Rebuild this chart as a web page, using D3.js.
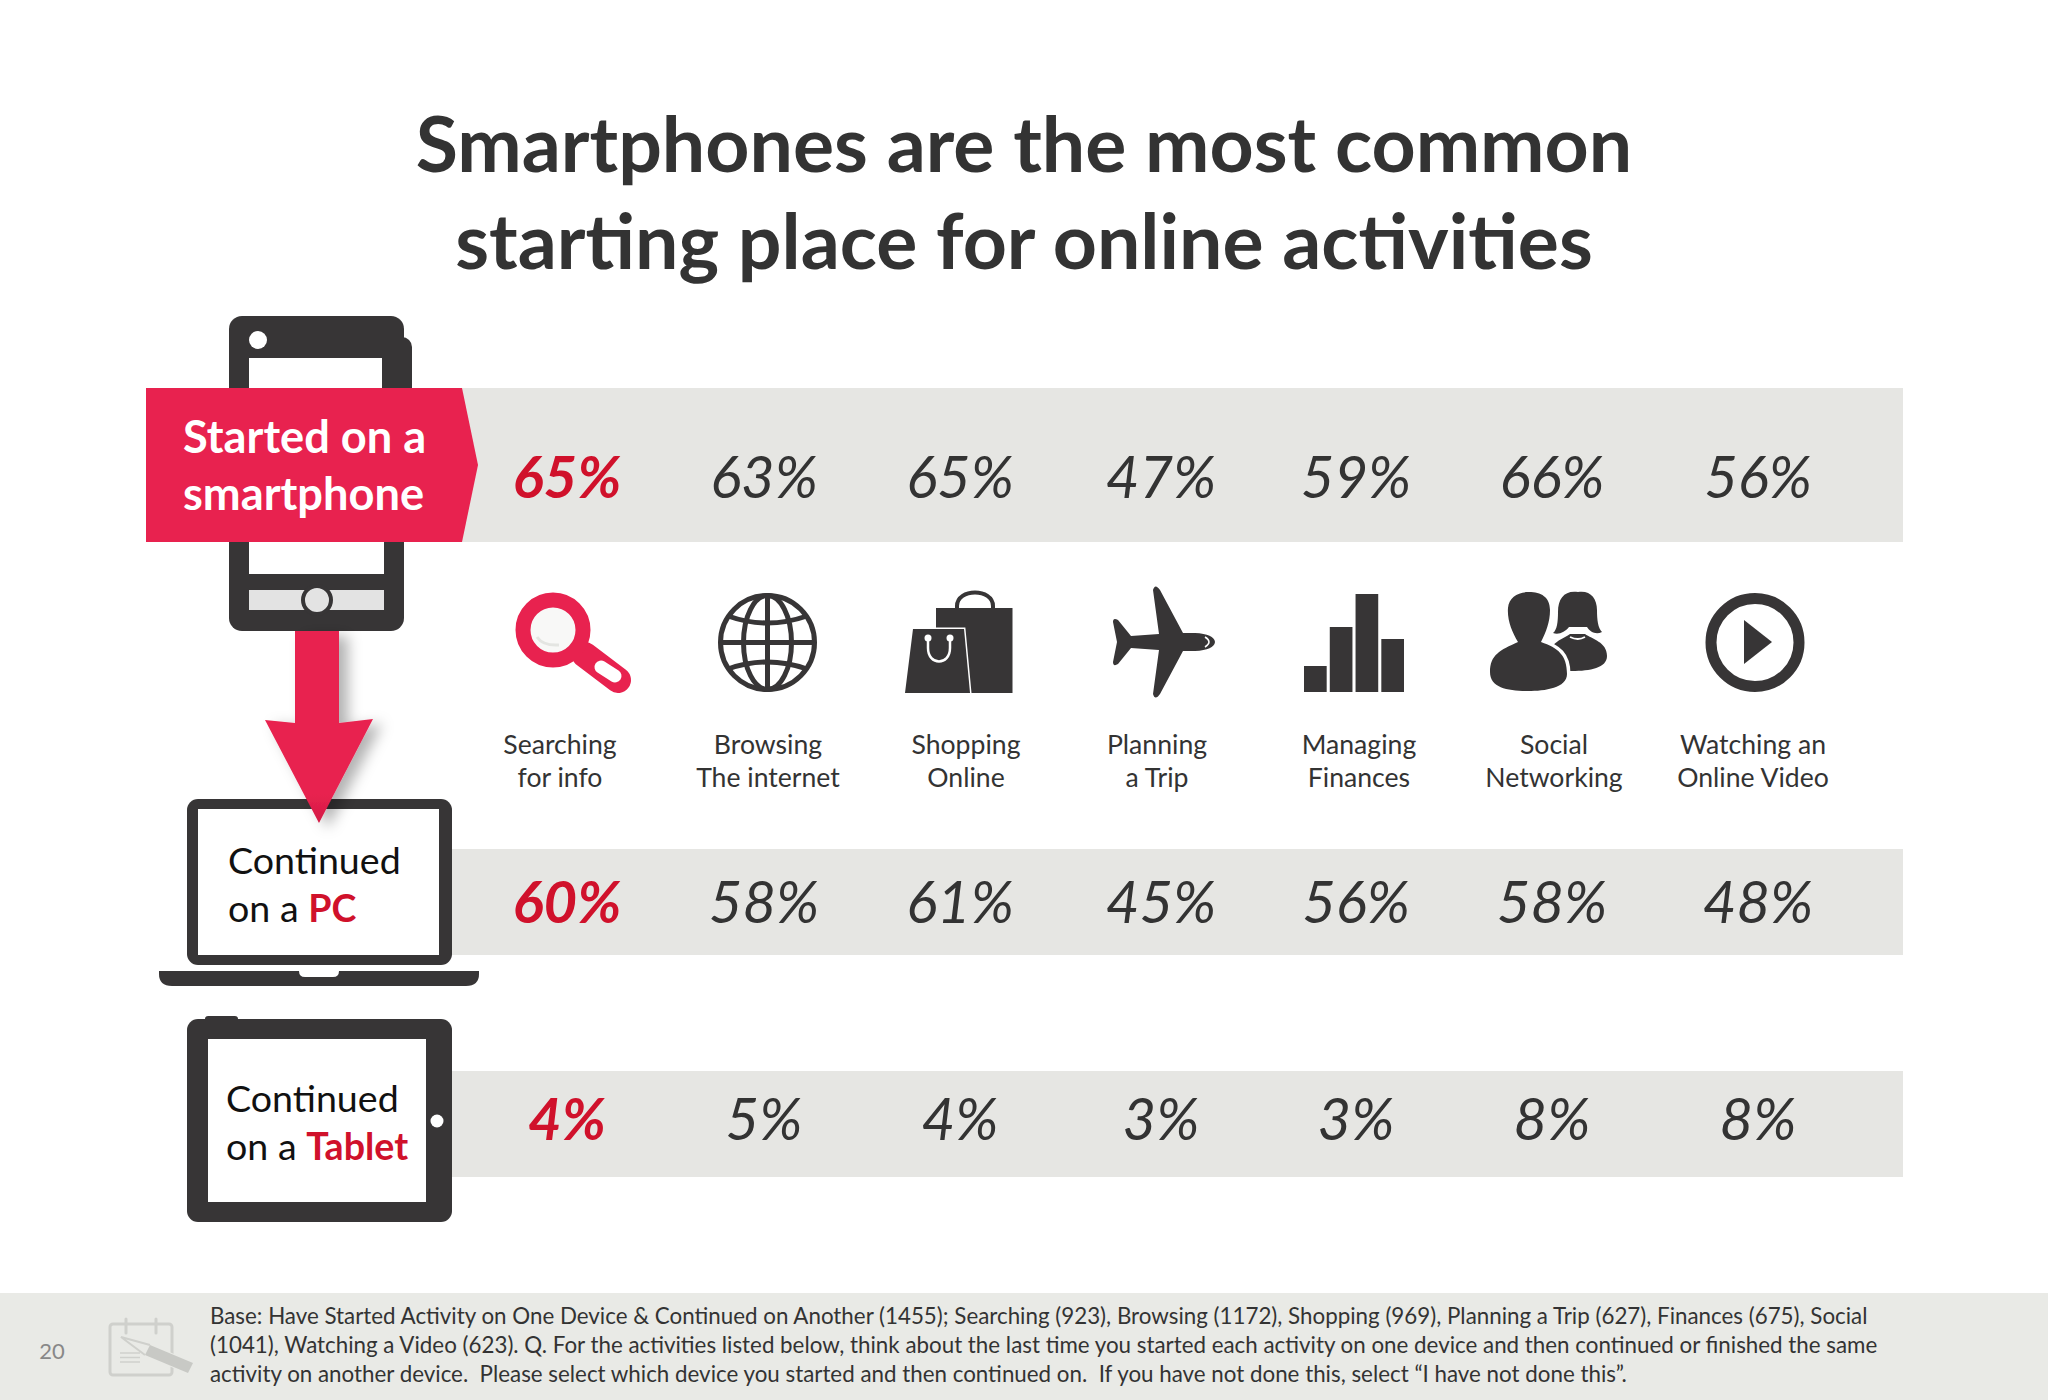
<!DOCTYPE html>
<html>
<head>
<meta charset="utf-8">
<title>Smartphones are the most common starting place</title>
<script src="https://cdnjs.cloudflare.com/ajax/libs/d3/7.8.5/d3.min.js"></script>
<style>
html, body { margin: 0; padding: 0; background: #fff; }
svg { display: block; }
text { font-family: Lato, "Open Sans", sans-serif; }
</style>
</head>
<body>
<div id="chart"></div>
<script>
// values
var activities = ["Searching", "Browsing", "Shopping", "Planning", "Managing", "Social", "Watching"];
var labelLine1 = ["Searching", "Browsing", "Shopping", "Planning", "Managing", "Social", "Watching an"];
var labelLine2 = ["for info", "The internet", "Online", "a Trip", "Finances", "Networking", "Online Video"];
var startedSmartphone = [65, 63, 65, 47, 59, 66, 56];
var continuedPC = [60, 58, 61, 45, 56, 58, 48];
var continuedTablet = [4, 5, 4, 3, 3, 8, 8];
var rowNames = ["smartphone", "pc", "tablet"];
var rowValues = [startedSmartphone, continuedPC, continuedTablet];
var titleLines = ["Smartphones are the most common", "starting place for online activities"];
var footnote = [
	"Base: Have Started Activity on One Device & Continued on Another (1455); Searching (923), Browsing (1172), Shopping (969), Planning a Trip (627), Finances (675), Social",
	"(1041), Watching a Video (623). Q. For the activities listed below, think about the last time you started each activity on one device and then continued or finished the same",
	"activity on another device.  Please select which device you started and then continued on.  If you have not done this, select \u201cI have not done this\u201d."
];
var financeBars = [26, 65, 98, 53];

var W = 2048, H = 1400;
var RED = "#e8224f", DARKRED = "#d0112b", DARK = "#373536", BAND = "#e6e6e3", FOOT = "#e9eae6";

var svg = d3.select("#chart").append("svg").attr("width", W).attr("height", H);
var defs = svg.append("defs");

var shadow = defs.append("filter").attr("id", "arrowshadow")
	.attr("x", "-30%").attr("y", "-20%").attr("width", "170%").attr("height", "150%");
shadow.append("feDropShadow").attr("dx", 9).attr("dy", 5).attr("stdDeviation", 7)
	.attr("flood-color", "#000").attr("flood-opacity", 0.3);

var arrowFill = defs.append("linearGradient").attr("id", "arrowfill")
	.attr("x1", 0).attr("y1", 0).attr("x2", 0).attr("y2", 1);
arrowFill.append("stop").attr("offset", "85%").attr("stop-color", RED);
arrowFill.append("stop").attr("offset", "100%").attr("stop-color", "#d31a45");

// columns are not evenly spaced on the slide, so ordinal scales
var xPct = d3.scaleOrdinal().domain(activities).range([567, 764, 960, 1161, 1356, 1552, 1758]);
var xLabel = d3.scaleOrdinal().domain(activities).range([560, 768, 966, 1157, 1359, 1554, 1753]);
var yBase = d3.scaleOrdinal().domain(rowNames).range([498, 923, 1140]);
var bandTop = d3.scaleOrdinal().domain(rowNames).range([388, 849, 1071]);
var bandHeight = d3.scaleOrdinal().domain(rowNames).range([154, 106, 106]);

// title
svg.selectAll("text.title").data(titleLines).enter().append("text")
	.attr("class", "title")
	.attr("x", 1024).attr("y", function (d, i) { return 172 + i * 97; })
	.attr("text-anchor", "middle")
	.attr("font-size", 77).attr("font-weight", 700).attr("fill", "#333")
	.text(function (d) { return d; });

// grey rows
svg.selectAll("rect.band").data(rowNames).enter().append("rect")
	.attr("class", "band")
	.attr("x", 440).attr("width", 1903 - 440)
	.attr("y", function (d) { return bandTop(d); })
	.attr("height", function (d) { return bandHeight(d); })
	.attr("fill", BAND);

// phone
var phone = svg.append("g");
phone.append("rect").attr("x", 340).attr("y", 337).attr("width", 72).attr("height", 100).attr("rx", 10).attr("fill", DARK);
phone.append("rect").attr("x", 229).attr("y", 316).attr("width", 175).attr("height", 315).attr("rx", 13).attr("fill", DARK);
phone.append("circle").attr("cx", 258).attr("cy", 340).attr("r", 9).attr("fill", "#fff");
phone.append("rect").attr("x", 249).attr("y", 358).attr("width", 133).attr("height", 40).attr("fill", "#fff");
phone.append("rect").attr("x", 249).attr("y", 530).attr("width", 135).attr("height", 44).attr("fill", "#fff");
phone.append("rect").attr("x", 249).attr("y", 590).attr("width", 135).attr("height", 20).attr("fill", "#e3e3e3");
phone.append("circle").attr("cx", 317).attr("cy", 600).attr("r", 14).attr("fill", "#e3e3e3").attr("stroke", DARK).attr("stroke-width", 4);

// banner
svg.append("path")
	.attr("d", "M146,388L462,388L478,465L462,542L146,542Z")
	.attr("fill", RED);
svg.selectAll("text.banner").data(["Started on a", "smartphone"]).enter().append("text")
	.attr("class", "banner")
	.attr("x", 183).attr("y", function (d, i) { return 453 + i * 57; })
	.attr("font-size", 45.2).attr("font-weight", 700).attr("fill", "#fff")
	.text(function (d) { return d; });

// laptop
var laptop = svg.append("g");
laptop.append("rect").attr("x", 187).attr("y", 799).attr("width", 265).attr("height", 166).attr("rx", 11).attr("fill", DARK);
laptop.append("rect").attr("x", 198).attr("y", 809).attr("width", 241).attr("height", 146).attr("fill", "#fff");
laptop.append("path").attr("d", "M159,971L479,971L479,974Q479,986 466,986L172,986Q159,986 159,974Z").attr("fill", DARK);
laptop.append("path").attr("d", "M299,971L339,971Q339,977 333,977L305,977Q299,977 299,971Z").attr("fill", "#fff");

// tablet
var tablet = svg.append("g");
tablet.append("rect").attr("x", 205).attr("y", 1016).attr("width", 33).attr("height", 8).attr("rx", 3).attr("fill", DARK);
tablet.append("rect").attr("x", 187).attr("y", 1019).attr("width", 265).attr("height", 203).attr("rx", 11).attr("fill", DARK);
tablet.append("rect").attr("x", 208).attr("y", 1039).attr("width", 218).attr("height", 163).attr("fill", "#fff");
tablet.append("circle").attr("cx", 437).attr("cy", 1121).attr("r", 6.5).attr("fill", "#fff");

// arrow from phone down to laptop
svg.append("path")
	.attr("d", "M295,631L339,631L339,723L373,719L319,823L265,720L295,723Z")
	.attr("fill", "url(#arrowfill)").attr("filter", "url(#arrowshadow)");

// device captions
function caption(x, y, strong) {
	svg.append("text").attr("x", x).attr("y", y).attr("font-size", 37.6).attr("fill", "#111").text("Continued");
	var t = svg.append("text").attr("x", x).attr("y", y + 48).attr("font-size", 37.6).attr("fill", "#111").text("on a ");
	t.append("tspan").attr("font-weight", 700).attr("fill", DARKRED).text(strong);
}
caption(228, 874, "PC");
caption(226, 1112, "Tablet");

// percentages, first column is bold and red
rowNames.forEach(function (row, r) {
	svg.selectAll("text.pct" + r).data(rowValues[r]).enter().append("text")
		.attr("class", "pct" + r)
		.attr("x", function (d, i) { return xPct(activities[i]); })
		.attr("y", yBase(row))
		.attr("text-anchor", "middle")
		.attr("font-size", 58).attr("font-style", "italic")
		.attr("font-weight", function (d, i) { return i == 0 ? 700 : 400; })
		.attr("fill", function (d, i) { return i == 0 ? DARKRED : "#333"; })
		.text(function (d) { return d + "%"; });
});

// activity labels
[labelLine1, labelLine2].forEach(function (lines, l) {
	svg.selectAll("text.lab" + l).data(lines).enter().append("text")
		.attr("class", "lab" + l)
		.attr("x", function (d, i) { return xLabel(activities[i]); })
		.attr("y", 754 + l * 33)
		.attr("text-anchor", "middle")
		.attr("font-size", 26.6).attr("fill", "#333")
		.text(function (d) { return d; });
});

// search icon
var search = svg.append("g");
search.append("line").attr("x1", 585).attr("y1", 655).attr("x2", 618).attr("y2", 680)
	.attr("stroke", RED).attr("stroke-width", 26).attr("stroke-linecap", "round");
search.append("circle").attr("cx", 553).attr("cy", 630).attr("r", 30).attr("fill", "#f8f8f7").attr("stroke", RED).attr("stroke-width", 15);
search.append("line").attr("x1", 601).attr("y1", 667).attr("x2", 615).attr("y2", 676)
	.attr("stroke", "#fff").attr("stroke-width", 13).attr("stroke-linecap", "round");
search.append("path").attr("d", "M537,637Q543,646 559,645").attr("fill", "none").attr("stroke", "#e4e5e2").attr("stroke-width", 3);

// globe icon
var globe = svg.append("g").attr("fill", "none").attr("stroke", DARK).attr("stroke-width", 5);
globe.append("circle").attr("cx", 767.5).attr("cy", 642.5).attr("r", 47);
globe.append("ellipse").attr("cx", 767.5).attr("cy", 642.5).attr("rx", 24).attr("ry", 47);
globe.append("line").attr("x1", 767.5).attr("y1", 596).attr("x2", 767.5).attr("y2", 689);
globe.append("line").attr("x1", 721).attr("y1", 642.5).attr("x2", 814).attr("y2", 642.5);
globe.append("path").attr("d", "M728,616Q767,630 807,616");
globe.append("path").attr("d", "M728,669Q767,655 807,669");

// shopping bags icon
var bags = svg.append("g");
bags.append("path").attr("d", "M957,608L957,606C957,588 993,588 993,606L993,608").attr("fill", "none").attr("stroke", DARK).attr("stroke-width", 4);
bags.append("rect").attr("x", 936).attr("y", 608).attr("width", 76.5).attr("height", 85).attr("fill", DARK);
bags.append("path").attr("d", "M913,629L964,629L970,693L905,693Z").attr("fill", DARK).attr("stroke", "#fff").attr("stroke-width", 3).attr("paint-order", "stroke");
bags.append("path").attr("d", "M928,638L928,648C928,666 950,666 950,648L950,638").attr("fill", "none").attr("stroke", "#fff").attr("stroke-width", 2.5);
bags.append("circle").attr("cx", 928).attr("cy", 638).attr("r", 3.5).attr("fill", "#fff");
bags.append("circle").attr("cx", 950).attr("cy", 638).attr("r", 3.5).attr("fill", "#fff");

// plane icon
var plane = svg.append("g");
plane.append("path")
	.attr("d", "M1215,642Q1214,634 1195,633L1183,633L1160,590Q1155,583 1153,590L1159,634L1131,636L1118,620Q1113,617 1113,622L1117,642L1113,662Q1113,667 1118,664L1131,648L1159,650L1153,694Q1155,701 1160,694L1183,651L1195,651Q1214,650 1215,642Z")
	.attr("fill", DARK);
plane.append("path").attr("d", "M1205,637Q1213,642 1205,647").attr("fill", "none").attr("stroke", "#fff").attr("stroke-width", 1.5);

// finance bars icon
var xBar = d3.scaleBand().domain(d3.range(financeBars.length)).range([1304, 1404]).paddingInner(0.12);
var yBar = d3.scaleLinear().domain([0, 98]).range([692, 594]);
svg.selectAll("rect.fin").data(financeBars).enter().append("rect")
	.attr("class", "fin")
	.attr("x", function (d, i) { return xBar(i); })
	.attr("width", xBar.bandwidth())
	.attr("y", function (d) { return yBar(d); })
	.attr("height", function (d) { return 692 - yBar(d); })
	.attr("fill", DARK);

// people icon, woman first then man on top with a white edge
var people = svg.append("g").attr("fill", DARK);
people.append("path").attr("d", "M1552,646C1558,640 1564,638 1570,634L1585,634C1592,639 1607,642 1607,656C1607,668 1590,671 1572,671L1552,671Z");
people.append("path").attr("d", "M1578,592C1565,590 1558,598 1558,612C1558,622 1557,630 1553,633C1559,635 1565,632 1569,627L1587,627C1590,632 1596,635 1602,632C1598,628 1597,620 1597,610C1597,598 1590,590 1578,592Z");
people.append("path").attr("d", "M1570,637Q1578,641 1585,637").attr("fill", "none").attr("stroke", "#fff").attr("stroke-width", 1.8);
people.append("path").attr("stroke", "#fff").attr("stroke-width", 7).attr("paint-order", "stroke")
	.attr("d", "M1490,672C1490,655 1500,650 1518,642C1512,632 1507,620 1508,608C1509,597 1518,592 1529,592C1541,592 1550,597 1550,610C1550,622 1546,632 1541,642C1558,648 1567,655 1567,674C1567,688 1545,691 1528,691C1508,691 1490,688 1490,672Z");

// play icon
svg.append("circle").attr("cx", 1755).attr("cy", 642.5).attr("r", 44).attr("fill", "none").attr("stroke", DARK).attr("stroke-width", 11);
svg.append("path").attr("d", "M1744,620L1772,642L1744,664Z").attr("fill", DARK);

// footer
svg.append("rect").attr("x", 0).attr("y", 1293).attr("width", W).attr("height", H - 1293).attr("fill", FOOT);
svg.append("text").attr("x", 52).attr("y", 1359).attr("text-anchor", "middle").attr("font-size", 22).attr("fill", "#888").text("20");
svg.selectAll("text.foot").data(footnote).enter().append("text")
	.attr("class", "foot")
	.attr("x", 210).attr("y", function (d, i) { return 1324 + i * 29; })
	.attr("font-size", 22.35).attr("fill", "#333").style("white-space", "pre")
	.text(function (d) { return d; });

// notepad icon in footer
var pad = svg.append("g");
pad.append("rect").attr("x", 110).attr("y", 1324).attr("width", 62).attr("height", 51).attr("rx", 3).attr("fill", "none").attr("stroke", "#cfd0cc").attr("stroke-width", 3);
[126, 156].forEach(function (x) {
	pad.append("line").attr("x1", x).attr("y1", 1319).attr("x2", x).attr("y2", 1333).attr("stroke", "#cfd0cc").attr("stroke-width", 3).attr("stroke-linecap", "round");
});
[1353, 1357.5, 1362].forEach(function (y) {
	pad.append("line").attr("x1", 120).attr("y1", y).attr("x2", 140).attr("y2", y).attr("stroke", "#cfd0cc").attr("stroke-width", 1.5);
});
pad.append("path").attr("d", "M150,1345L193,1363L188,1373L145,1355Z").attr("fill", "#c8c9c5").attr("stroke", FOOT).attr("stroke-width", 2).attr("paint-order", "stroke");
pad.append("path").attr("d", "M150,1345L121,1337L145,1355").attr("fill", "none").attr("stroke", "#cfd0cc").attr("stroke-width", 2);
</script>
</body>
</html>
